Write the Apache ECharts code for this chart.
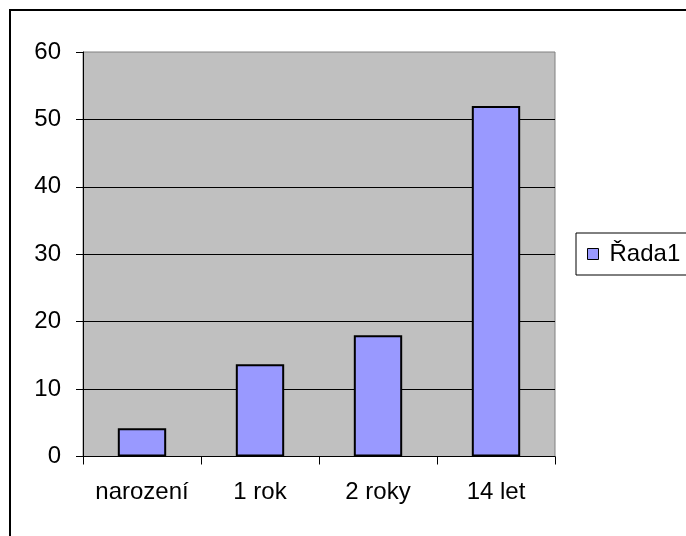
<!DOCTYPE html>
<html>
<head>
<meta charset="utf-8">
<script src="https://cdn.jsdelivr.net/npm/echarts@6/dist/echarts.min.js"></script>
<style>
html,body{margin:0;padding:0;background:#fff;}
#c{width:686px;height:536px;}
</style>
</head>
<body>
<div id="c"></div>
<script>
var categories = ['narození', '1 rok', '2 roky', '14 let'];
var seriesName = 'Řada1';
var values = [4.2, 13.7, 18, 52];
var yTicks = [0, 10, 20, 30, 40, 50, 60];

var FONT = '"Liberation Sans", Arial, sans-serif';
var chart = echarts.init(document.getElementById('c'), null, {renderer: 'canvas'});
chart.setOption({
  animation: false,
  backgroundColor: '#fff',
  textStyle: {fontFamily: FONT},
  graphic: [{
    type: 'rect', z: 100, silent: true,
    shape: {x: 10, y: 10, width: 800, height: 800},
    style: {fill: 'none', stroke: '#000', lineWidth: 2}
  }],
  grid: {
    left: 83, right: 131, top: 52, bottom: 79.5,
    show: true, backgroundColor: '#C0C0C0', borderColor: '#808080', borderWidth: 1
  },
  legend: {
    show: true,
    left: 576, top: 233,
    orient: 'vertical',
    padding: [9, 30, 9, 11],
    borderColor: '#000', borderWidth: 1,
    backgroundColor: '#fff',
    icon: 'rect', itemWidth: 11, itemHeight: 11,
    itemStyle: {borderColor: '#000', borderWidth: 1},
    textStyle: {fontFamily: FONT, fontSize: 24, color: '#000', padding: [0, 0, 0, 6]},
    data: [seriesName]
  },
  xAxis: {
    type: 'category',
    data: categories,
    axisLine: {show: true, lineStyle: {color: '#000', width: 1}},
    axisTick: {show: true, interval: 0, length: 8, lineStyle: {color: '#000'}},
    axisLabel: {interval: 0, fontFamily: FONT, fontSize: 24, color: '#000', margin: 24},
    splitLine: {show: false}
  },
  yAxis: {
    type: 'value',
    min: yTicks[0], max: yTicks[yTicks.length - 1], interval: 10,
    axisLine: {show: true, lineStyle: {color: '#000', width: 1}},
    axisTick: {show: true, length: 7, lineStyle: {color: '#000'}},
    axisLabel: {fontFamily: FONT, fontSize: 24, color: '#000', margin: 22},
    splitLine: {show: true, showMinLine: false, showMaxLine: false, lineStyle: {color: '#000', width: 1}}
  },
  series: [{
    name: seriesName,
    type: 'bar',
    data: values,
    barWidth: '41%',
    itemStyle: {color: '#9999FF', borderColor: '#000', borderWidth: 2}
  }]
});
</script>
</body>
</html>
